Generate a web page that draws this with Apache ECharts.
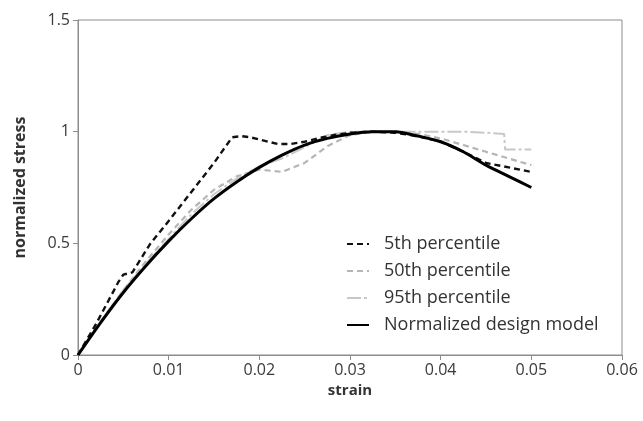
<!DOCTYPE html>
<html>
<head>
<meta charset="utf-8">
<script src="https://cdn.jsdelivr.net/npm/echarts@6/dist/echarts.min.js"></script>
<style>
  html, body { margin: 0; padding: 0; background: #fff; }
  #chart { width: 643px; height: 421px; }
</style>
</head>
<body>
<div id="chart"></div>
<script>
// values
const strain5 = [0, 0.002, 0.0045, 0.005, 0.006, 0.008, 0.01, 0.0125, 0.015, 0.017, 0.018, 0.019, 0.0205, 0.022, 0.0235, 0.025, 0.0275, 0.03, 0.0325, 0.035, 0.0375, 0.04, 0.0425, 0.045, 0.0475, 0.05];
const stress5 = [0, 0.14, 0.33, 0.36, 0.37, 0.50, 0.60, 0.73, 0.86, 0.975, 0.98, 0.975, 0.96, 0.945, 0.945, 0.955, 0.98, 0.995, 1.0, 0.995, 0.98, 0.955, 0.91, 0.86, 0.84, 0.82];

const strain50 = [0, 0.0025, 0.005, 0.0075, 0.01, 0.0125, 0.015, 0.0175, 0.02, 0.0225, 0.025, 0.0275, 0.03, 0.0325, 0.035, 0.0375, 0.04, 0.0425, 0.045, 0.0475, 0.05];
const stress50 = [0, 0.15, 0.29, 0.42, 0.54, 0.65, 0.74, 0.80, 0.83, 0.82, 0.86, 0.935, 0.985, 1.0, 1.0, 0.99, 0.97, 0.94, 0.91, 0.88, 0.85];

const strain95 = [0, 0.0025, 0.005, 0.0075, 0.01, 0.0125, 0.015, 0.0175, 0.02, 0.0225, 0.025, 0.0275, 0.03, 0.0325, 0.035, 0.0375, 0.04, 0.0425, 0.045, 0.047, 0.0471, 0.05];
const stress95 = [0, 0.15, 0.29, 0.41, 0.52, 0.63, 0.72, 0.79, 0.845, 0.88, 0.93, 0.985, 1.0, 1.0, 1.0, 1.0, 1.0, 1.0, 0.995, 0.99, 0.92, 0.92];

const strainModel = [0, 0.0025, 0.005, 0.0075, 0.01, 0.0125, 0.015, 0.0175, 0.02, 0.0225, 0.025, 0.0275, 0.03, 0.0325, 0.035, 0.0375, 0.04, 0.0425, 0.045, 0.0475, 0.05];
const stressModel = [0, 0.145, 0.28, 0.40, 0.51, 0.61, 0.70, 0.775, 0.84, 0.895, 0.94, 0.97, 0.99, 1.0, 1.0, 0.98, 0.955, 0.91, 0.85, 0.80, 0.75];

const seriesNames = ['5th percentile', '50th percentile', '95th percentile', 'Normalized design model'];

function pairs(xs, ys) {
    return xs.map((x, i) => [x, ys[i]]);
}

const font = '"Open Sans", "Liberation Sans", sans-serif';
const chart = echarts.init(document.getElementById('chart'), null, { renderer: 'canvas' });

const option = {
    animation: false,
    backgroundColor: '#fff',
    grid: { left: 78, right: 21, top: 20, bottom: 66, show: true, borderColor: '#8c8c8c', borderWidth: 1 },
    legend: {
        orient: 'vertical',
        left: 341,
        top: 230,
        itemGap: 9,
        itemWidth: 22,
        itemHeight: 16,
        itemStyle: { opacity: 0 },
        textStyle: { fontFamily: font, fontSize: 18, color: '#333', padding: [0, 0, 0, 10] },
        data: seriesNames
    },
    xAxis: {
        type: 'value',
        min: 0,
        max: 0.06,
        interval: 0.01,
        name: 'strain',
        nameLocation: 'middle',
        nameGap: 25,
        nameTextStyle: { fontFamily: font, fontSize: 15, fontWeight: 'bold', color: '#333' },
        axisLine: { lineStyle: { color: '#8c8c8c', width: 1 } },
        axisTick: { show: true, inside: false, length: 5, lineStyle: { color: '#8c8c8c' } },
        axisLabel: { fontFamily: font, fontSize: 16, color: '#3a3a3a', margin: 7 },
        splitLine: { show: false }
    },
    yAxis: {
        type: 'value',
        min: 0,
        max: 1.5,
        interval: 0.5,
        name: 'normalized stress',
        nameLocation: 'middle',
        nameGap: 50,
        nameTextStyle: { fontFamily: font, fontSize: 16, fontWeight: 'bold', color: '#333' },
        axisLine: { show: true, lineStyle: { color: '#8c8c8c', width: 1 } },
        axisTick: { show: true, inside: false, length: 5, lineStyle: { color: '#8c8c8c' } },
        axisLabel: { fontFamily: font, fontSize: 16, color: '#3a3a3a', margin: 8 },
        splitLine: { show: false }
    },
    series: [
        {
            name: seriesNames[0], type: 'line', symbol: 'none', z: 3,
            data: pairs(strain5, stress5),
            lineStyle: { color: '#111', width: 2.4, type: [6, 4] },
            itemStyle: { color: '#111' }
        },
        {
            name: seriesNames[1], type: 'line', symbol: 'none', z: 2,
            data: pairs(strain50, stress50),
            lineStyle: { color: '#b5b5b5', width: 2.2, type: [6, 4] },
            itemStyle: { color: '#b5b5b5' }
        },
        {
            name: seriesNames[2], type: 'line', symbol: 'none', z: 2,
            data: pairs(strain95, stress95),
            lineStyle: { color: '#c8c8c8', width: 2, type: [14, 3, 3, 3] },
            itemStyle: { color: '#c8c8c8' }
        },
        {
            name: seriesNames[3], type: 'line', symbol: 'none', z: 4, smooth: 0.3,
            data: pairs(strainModel, stressModel),
            lineStyle: { color: '#000', width: 3 },
            itemStyle: { color: '#000' }
        }
    ]
};

chart.setOption(option);
</script>
</body>
</html>
